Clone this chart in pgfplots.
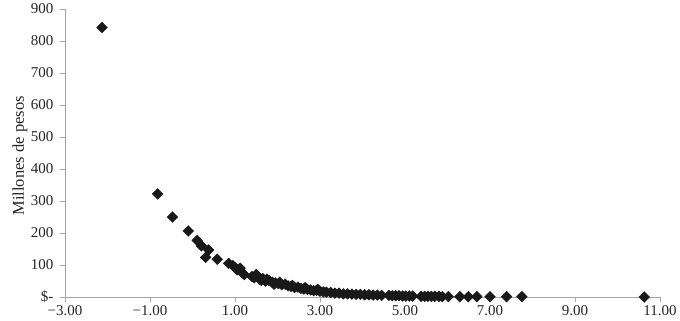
\documentclass[border=0pt]{standalone}
\usepackage{fontspec}
\setmainfont{Liberation Serif}
\usepackage{pgfplots}
\pgfplotsset{compat=1.18}
\begin{document}
\begin{tikzpicture}
\begin{axis}[
  scale only axis,
  width=595pt, height=288pt,
  xmin=-3, xmax=11, ymin=0, ymax=900,
  axis lines*=left,
  axis line style={gray!70, line width=0.8pt},
  tick style={gray!70, line width=0.8pt},
  tick align=outside,
  major tick length=5pt,
  xtick={-3,-1,1,3,5,7,9,11},
  xticklabels={−3.00,−1.00,1.00,3.00,5.00,7.00,9.00,11.00},
  ytick={0,100,200,300,400,500,600,700,800,900},
  yticklabels={\$-,100,200,300,400,500,600,700,800,900},
  tick label style={font=\fontsize{15pt}{17pt}\selectfont, text=black!85},
  yticklabel style={xshift=-3pt},
  ylabel={Millones de pesos},
  ylabel style={at={(axis description cs:-0.0756,0.49)}, anchor=center, font=\fontsize{16.5pt}{18pt}\selectfont, text=black!85},
  clip=false,
]
\addplot[only marks, mark=square*, mark size=3.8pt, mark options={rotate=45, fill=black!90, draw=black!90}] coordinates {
(-2.13,842) (-0.82,322) (-0.47,250) (-0.10,206) (0.11,177) (0.21,160)
(0.31,124) (0.38,147) (0.58,118) (0.85,105) (0.95,98) (1.00,92) (1.05,85)
(1.12,90) (1.17,76) (1.22,70)
(1.40,64) (1.45,60) (1.52,66) (1.58,55) (1.65,58) (1.72,50) (1.80,52)
(1.88,46) (1.95,44) (2.02,42) (2.10,38) (2.18,40) (2.25,35) (2.32,33)
(2.40,30) (2.48,31) (2.55,27) (2.62,25) (2.70,24) (2.78,22) (2.85,20)
(2.92,21) (3.00,18) (3.08,16) (3.15,15) (3.25,14) (3.35,12) (3.45,12)
(3.55,10) (3.65,10) (3.75,9) (3.85,8) (3.95,8) (4.05,7) (4.15,7)
(4.25,6) (4.35,6) (4.45,5) (4.62,5) (4.70,4) (4.78,4) (4.86,4)
(4.94,3) (5.02,3) (5.10,3) (5.18,3) (5.38,2) (5.46,2) (5.54,2)
(5.62,2) (5.70,2) (5.80,2) (5.88,1) (6.02,1) (6.29,1) (6.49,1)
(6.69,1) (7.00,1) (7.39,1) (7.75,1) (10.63,0)
(1.50,70) (1.75,56) (2.05,46) (2.35,36) (2.65,29) (2.95,24) (1.62,52) (1.92,40)
};
\end{axis}
\pgfresetboundingbox
\path (-65pt,-24pt) rectangle (615pt,297pt);
\end{tikzpicture}
\end{document}
